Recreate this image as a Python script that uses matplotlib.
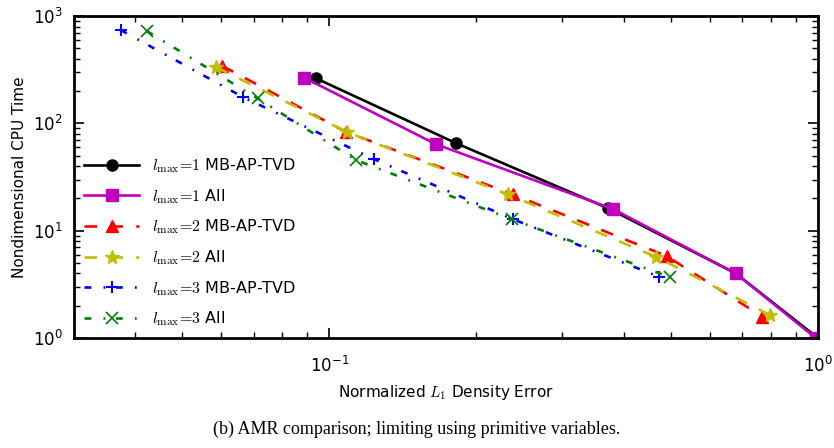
import matplotlib
matplotlib.use("Agg")
import matplotlib.pyplot as plt
from matplotlib.font_manager import FontProperties

# normalized L1 density error (x) vs nondimensional CPU time (y)
err_l1_mb = [0.0939, 0.182, 0.372, 0.679, 1.0]
cpu_l1_mb = [263, 65.2, 16.2, 4.0, 1.0]
err_l1_all = [0.0889, 0.165, 0.381, 0.679, 0.99]
cpu_l1_all = [266, 64.2, 15.9, 4.0, 1.0]
err_l2_mb = [0.0603, 0.108, 0.2375, 0.49, 0.77]
cpu_l2_mb = [344, 83.6, 21.8, 5.81, 1.58]
err_l2_all = [0.0586, 0.1087, 0.232, 0.466, 0.797]
cpu_l2_all = [335, 83.0, 21.8, 5.72, 1.64]
err_l3_mb = [0.0374, 0.0667, 0.1233, 0.2375, 0.473]
cpu_l3_mb = [741, 175, 46.5, 12.8, 3.73]
err_l3_all = [0.0423, 0.0713, 0.1134, 0.236, 0.499]
cpu_l3_all = [725, 171, 45.5, 12.8, 3.68]

labels = [r"$l_{\max}\!=\!1$ MB-AP-TVD", r"$l_{\max}\!=\!1$ All",
          r"$l_{\max}\!=\!2$ MB-AP-TVD", r"$l_{\max}\!=\!2$ All",
          r"$l_{\max}\!=\!3$ MB-AP-TVD", r"$l_{\max}\!=\!3$ All"]

fig = plt.figure(figsize=(8.34, 4.48), dpi=100)
ax = fig.add_axes([0.0887, 0.2455, 0.892, 0.7185])

lw = 1.9
dash = (4.8, 5.0)
dashdot = (2.6, 4.6, 0.7, 4.0)
ax.plot(err_l1_mb, cpu_l1_mb, 'k-', marker='o', ms=8, lw=lw, label=labels[0])
ax.plot(err_l1_all, cpu_l1_all, 'm-', marker='s', ms=8, lw=lw, label=labels[1])
ax.plot(err_l2_mb, cpu_l2_mb, 'r--', marker='^', ms=8, lw=lw, dashes=dash, label=labels[2])
ax.plot(err_l2_all, cpu_l2_all, 'y--', marker='*', ms=10, lw=lw, dashes=dash, label=labels[3])
ax.plot(err_l3_mb, cpu_l3_mb, 'b-.', marker='+', ms=9, mew=1.5, lw=lw, dashes=dashdot, label=labels[4])
ax.plot(err_l3_all, cpu_l3_all, 'g-.', marker='x', ms=9, mew=1.2, lw=lw, dashes=dashdot, label=labels[5])

ax.set_xscale('log')
ax.set_yscale('log')
ax.set_xlim(0.03, 1.0)
ax.set_ylim(1, 1000)

for s in ax.spines.values():
    s.set_linewidth(2)
ax.tick_params(which='both', direction='in', top=True, right=True, labelsize=12)
ax.tick_params(which='major', length=7, width=1.2, pad=8)
ax.tick_params(which='minor', length=4, width=1)
ax.tick_params(axis='x', which='major', pad=13)

lab_font = FontProperties(size=11, math_fontfamily='cm')
ax.set_xlabel(r"Normalized $L_1$ Density Error", fontproperties=lab_font, labelpad=5)
ax.set_ylabel("Nondimensional CPU Time", fontsize=11)

leg_font = FontProperties(size=11.5, math_fontfamily='cm')
ax.legend(loc='lower left', frameon=False, prop=leg_font, handlelength=3.5,
          labelspacing=0.75, borderaxespad=0.2, numpoints=1)

fig.text(0.5, 0.022, "(b) AMR comparison; limiting using primitive variables.",
         ha='center', va='bottom', fontsize=13, family='Liberation Serif')

fig.savefig("out.png", dpi=100)
